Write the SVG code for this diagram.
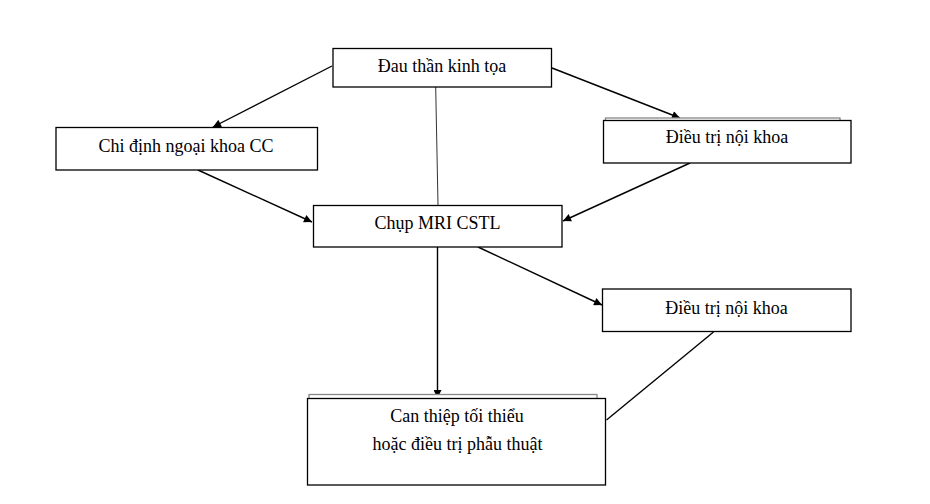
<svg xmlns="http://www.w3.org/2000/svg" width="930" height="504" viewBox="0 0 930 504">
<style>
.box{fill:#fff;stroke:#000;stroke-width:1.3}
.sh{stroke:#888;stroke-width:1.3;fill:#fff}
.t{font-family:"Liberation Serif","Times New Roman",serif;font-size:18px;fill:#000;text-anchor:middle}
.c{stroke:#000;stroke-width:1.4;fill:none}
.thin{stroke:#333;stroke-width:1;fill:none}
</style>
<defs>
<marker id="ah" viewBox="0 0 10 10" refX="10" refY="5" markerWidth="9" markerHeight="8" markerUnits="userSpaceOnUse" orient="auto">
<path d="M0,0 L10,5 L0,10 z" fill="#000"/>
</marker>
</defs>
<rect width="930" height="504" fill="#fff"/>
<g id="connectors">
<line class="c" x1="332" y1="66" x2="213" y2="127" marker-end="url(#ah)"/>
<line class="c" x1="552" y1="68" x2="680" y2="118" marker-end="url(#ah)"/>
<line class="thin" x1="435.7" y1="87" x2="438" y2="205"/>
<line class="c" x1="198" y1="170" x2="312" y2="222" marker-end="url(#ah)"/>
<line class="c" x1="690" y1="163" x2="563" y2="221" marker-end="url(#ah)"/>
<line class="c" x1="478" y1="247" x2="602" y2="305" marker-end="url(#ah)"/>
<line class="c" x1="437.5" y1="247" x2="437.5" y2="398" marker-end="url(#ah)"/>
<line class="c" x1="713.5" y1="332" x2="606.5" y2="420"/>
</g>
<g id="n1">
<rect class="box" x="333" y="48.5" width="218.5" height="38.5"/>
<text class="t" x="442" y="72">Đau thần kinh tọa</text>
</g>
<g id="n2">
<rect class="box" x="56" y="127.5" width="261.5" height="42.5"/>
<text class="t" x="186" y="152">Chi định ngoại khoa CC</text>
</g>
<g id="n3">
<rect class="sh" x="605.5" y="118" width="234.5" height="10"/>
<rect class="box" x="603.5" y="120.5" width="247.5" height="42.5"/>
<text class="t" x="727" y="143">Điều trị nội khoa</text>
</g>
<g id="n4">
<rect class="box" x="313.5" y="205.5" width="248.5" height="41.5"/>
<text class="t" x="437.5" y="229">Chụp MRI CSTL</text>
</g>
<g id="n5">
<rect class="box" x="602.5" y="289" width="248.5" height="42.5"/>
<text class="t" x="726.5" y="313.5">Điều trị nội khoa</text>
</g>
<g id="n6">
<rect class="sh" x="309" y="394.5" width="288" height="10"/>
<rect class="box" x="307.5" y="398.5" width="298" height="86.5"/>
<text class="t" x="457" y="422">Can thiệp tối thiểu</text>
<text class="t" x="457.5" y="450">hoặc điều trị phẫu thuật</text>
</g>
</svg>
